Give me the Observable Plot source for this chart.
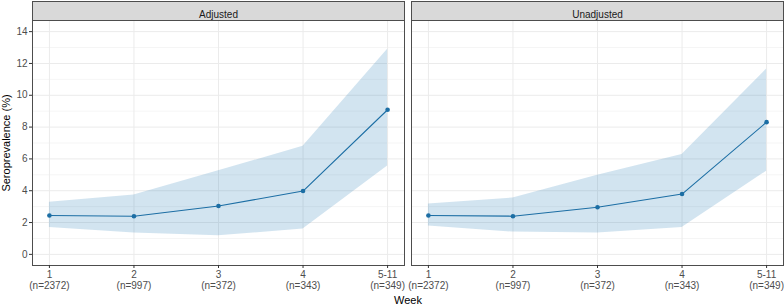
<!DOCTYPE html>
<html>
<head>
<meta charset="utf-8">
<script src="https://cdn.jsdelivr.net/npm/d3@7"></script>
<script src="https://cdn.jsdelivr.net/npm/@observablehq/plot@0.6"></script>
<style>
  html, body { margin: 0; padding: 0; background: #fff; }
  #chart svg { display: block; }
  g[aria-label="x-axis label"] text, g[aria-label="y-axis label"] text { font-size: 11px; fill: #000; }
</style>
</head>
<body>
<div id="chart"></div>
<script>
const panels = ["Adjusted", "Unadjusted"];
const weekIndex = [1, 2, 3, 4, 5];
const weekLabels = ["1", "2", "3", "4", "5-11"];
const nLabels = ["(n=2372)", "(n=997)", "(n=372)", "(n=343)", "(n=349)"];

const adjEst   = [2.44, 2.40, 3.04, 3.98, 9.09];
const adjLower = [1.69, 1.34, 1.17, 1.59, 5.56];
const adjUpper = [3.27, 3.73, 5.25, 6.79, 12.90];

const unadjEst   = [2.44, 2.40, 2.96, 3.79, 8.31];
const unadjLower = [1.79, 1.40, 1.34, 1.69, 5.23];
const unadjUpper = [3.17, 3.54, 4.98, 6.27, 11.65];

const yTicks = [0, 2, 4, 6, 8, 10, 12, 14];
const yMinor = [1, 3, 5, 7, 9, 11, 13];

const series = [
  {panel: panels[0], est: adjEst, lower: adjLower, upper: adjUpper},
  {panel: panels[1], est: unadjEst, lower: unadjLower, upper: unadjUpper}
];
const data = series.flatMap(s => weekIndex.map((w, i) => ({
  panel: s.panel, week: w, est: s.est[i], lower: s.lower[i], upper: s.upper[i]
})));

const blue = "#1c6ea4";
const gridColor = "#ebebeb";
const borderColor = "#4d4d4d";

const chart = Plot.plot({
  width: 784,
  height: 304,
  marginTop: 20,
  marginBottom: 39,
  marginLeft: 32,
  marginRight: 1,
  style: {fontFamily: "'Liberation Sans', Arial, sans-serif", fontSize: "10px", background: "#fff"},
  fx: {domain: panels, padding: 0.0185, axis: null, label: null},
  x: {domain: [0.8, 5.2]},
  y: {domain: [-0.7, 14.7]},
  marks: [
    Plot.gridY(yMinor, {stroke: gridColor, strokeOpacity: 1, strokeWidth: 0.5}),
    Plot.gridY(yTicks, {stroke: gridColor, strokeOpacity: 1, strokeWidth: 1}),
    Plot.gridX(weekIndex, {stroke: gridColor, strokeOpacity: 1, strokeWidth: 1}),
    Plot.areaY(data, {fx: "panel", x: "week", y1: "lower", y2: "upper", fill: "#1f78b4", fillOpacity: 0.2}),
    Plot.line(data, {fx: "panel", x: "week", y: "est", stroke: blue, strokeWidth: 1.1}),
    Plot.dot(data, {fx: "panel", x: "week", y: "est", r: 2.3, fill: blue}),
    Plot.frame({stroke: borderColor, strokeWidth: 1}),
    Plot.frame({insetTop: -19, insetBottom: 245, fill: "#d9d9d9", stroke: borderColor, strokeWidth: 1}),
    Plot.text(panels, {fx: d => d, text: d => d, frameAnchor: "top", dy: -9.5, fontSize: 10, fill: "#1a1a1a"}),
    Plot.axisX(weekIndex, {
      tickSize: 3, tickPadding: 2, stroke: "#333",
      tickFormat: i => weekLabels[i - 1] + "\n" + nLabels[i - 1],
      lineHeight: 1.1, fill: "#4d4d4d",
      label: "Week", labelAnchor: "center", labelArrow: false, labelOffset: 38
    }),
    Plot.axisY(yTicks, {
      tickSize: 3, tickPadding: 2, stroke: "#333", fill: "#4d4d4d",
      label: "Seroprevalence (%)", labelAnchor: "center", labelArrow: false, labelOffset: 30
    })
  ]
});

document.getElementById("chart").appendChild(chart);
</script>
</body>
</html>
